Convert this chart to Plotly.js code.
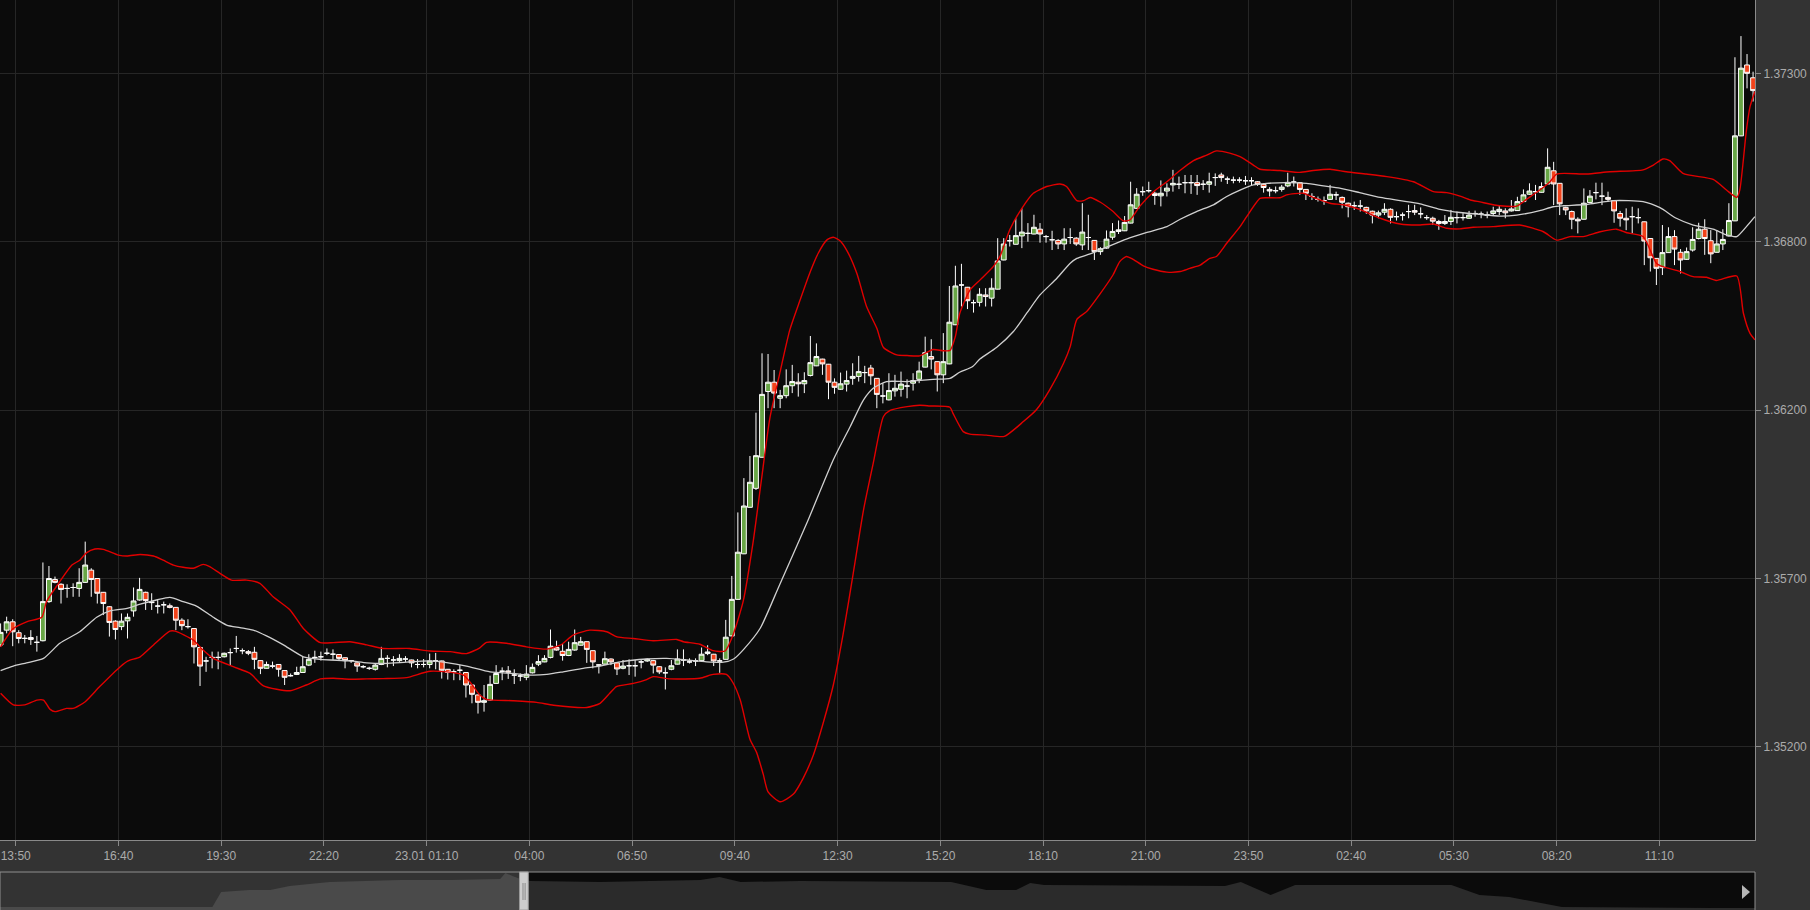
<!DOCTYPE html>
<html>
<head>
<meta charset="utf-8">
<script src="https://cdn.plot.ly/plotly-3.0.1.min.js"></script>
<style>
html,body{margin:0;padding:0;background:#333333;overflow:hidden}
#chart{width:1810px;height:910px}
</style>
</head>
<body>
<div id="chart"></div>
<script>
// ---- candles: 10-minute bars starting 22.01 13:25 ----
const startTime = '2015-01-22T13:25:00Z';
const candleMinutes = 10;

const open = [
1.35518,1.35564,1.35590,1.35556,1.35539,1.35541,1.35526,1.35531,1.35653,1.35722,
1.35707,1.35694,1.35697,1.35694,1.35713,1.35751,1.35725,1.35682,1.35637,1.35592,
1.35575,1.35593,1.35624,1.35658,1.35682,1.35652,1.35639,1.35643,1.35640,1.35635,
1.35595,1.35575,1.35569,1.35510,1.35468,1.35479,1.35479,1.35481,1.35494,1.35507,
1.35500,1.35497,1.35495,1.35469,1.35445,1.35452,1.35457,1.35438,1.35422,1.35426,
1.35432,1.35455,1.35479,1.35481,1.35492,1.35489,1.35488,1.35478,1.35469,1.35462,
1.35450,1.35445,1.35442,1.35457,1.35476,1.35471,1.35469,1.35474,1.35471,1.35457,
1.35457,1.35457,1.35468,1.35468,1.35442,1.35434,1.35439,1.35432,1.35393,1.35362,
1.35339,1.35346,1.35398,1.35436,1.35437,1.35424,1.35421,1.35417,1.35431,1.35458,
1.35465,1.35479,1.35510,1.35498,1.35485,1.35502,1.35517,1.35528,1.35500,1.35456,
1.35458,1.35474,1.35462,1.35445,1.35453,1.35453,1.35465,1.35468,1.35469,1.35450,
1.35431,1.35442,1.35458,1.35471,1.35465,1.35468,1.35469,1.35491,1.35489,1.35468,
1.35473,1.35546,1.35660,1.35802,1.35947,1.36006,1.36103,1.36308,1.36337,1.36287,
1.36295,1.36326,1.36337,1.36332,1.36358,1.36388,1.36409,1.36393,1.36337,1.36315,
1.36331,1.36349,1.36355,1.36367,1.36381,1.36349,1.36294,1.36282,1.36310,1.36315,
1.36325,1.36334,1.36346,1.36384,1.36417,1.36401,1.36360,1.36394,1.36516,1.36640,
1.36633,1.36585,1.36586,1.36609,1.36599,1.36627,1.36718,1.36778,1.36767,1.36793,
1.36801,1.36799,1.36814,1.36791,1.36781,1.36779,1.36768,1.36788,1.36786,1.36765,
1.36788,1.36779,1.36744,1.36755,1.36789,1.36807,1.36809,1.36833,1.36879,1.36931,
1.36934,1.36926,1.36918,1.36933,1.36952,1.36954,1.36959,1.36959,1.36959,1.36954,
1.36954,1.36975,1.36983,1.36970,1.36967,1.36967,1.36965,1.36965,1.36962,1.36954,
1.36938,1.36934,1.36938,1.36949,1.36961,1.36959,1.36938,1.36916,1.36907,1.36903,
1.36907,1.36921,1.36913,1.36895,1.36887,1.36886,1.36882,1.36870,1.36858,1.36867,
1.36876,1.36853,1.36858,1.36869,1.36872,1.36862,1.36850,1.36848,1.36838,1.36832,
1.36838,1.36850,1.36850,1.36848,1.36863,1.36861,1.36858,1.36863,1.36869,1.36871,
1.36871,1.36872,1.36900,1.36923,1.36931,1.36929,1.36955,1.36996,1.36957,1.36882,
1.36869,1.36845,1.36845,1.36897,1.36928,1.36917,1.36913,1.36903,1.36863,1.36848,
1.36853,1.36850,1.36837,1.36785,1.36723,1.36694,1.36741,1.36791,1.36742,1.36720,
1.36749,1.36785,1.36814,1.36778,1.36742,1.36768,1.36793,1.36840,1.37105,1.37326,
1.37286];

const high = [
1.35585,1.35606,1.35598,1.35564,1.35549,1.35564,1.35546,1.35775,1.35764,1.35731,
1.35710,1.35707,1.35710,1.35757,1.35840,1.35757,1.35726,1.35683,1.35639,1.35595,
1.35616,1.35616,1.35697,1.35727,1.35684,1.35679,1.35658,1.35653,1.35647,1.35636,
1.35601,1.35598,1.35570,1.35512,1.35481,1.35497,1.35497,1.35494,1.35507,1.35546,
1.35507,1.35502,1.35512,1.35470,1.35466,1.35466,1.35458,1.35439,1.35429,1.35450,
1.35481,1.35489,1.35500,1.35497,1.35507,1.35504,1.35489,1.35479,1.35471,1.35463,
1.35455,1.35450,1.35460,1.35512,1.35486,1.35483,1.35489,1.35483,1.35472,1.35474,
1.35474,1.35491,1.35493,1.35469,1.35443,1.35442,1.35455,1.35433,1.35394,1.35363,
1.35393,1.35422,1.35455,1.35448,1.35452,1.35442,1.35429,1.35455,1.35460,1.35486,
1.35486,1.35566,1.35531,1.35521,1.35528,1.35566,1.35543,1.35529,1.35501,1.35457,
1.35497,1.35476,1.35463,1.35471,1.35473,1.35471,1.35471,1.35476,1.35471,1.35452,
1.35448,1.35471,1.35504,1.35504,1.35476,1.35476,1.35510,1.35517,1.35490,1.35476,
1.35596,1.35733,1.35931,1.36038,1.36107,1.36242,1.36427,1.36425,1.36375,1.36313,
1.36377,1.36391,1.36365,1.36368,1.36481,1.36458,1.36410,1.36394,1.36349,1.36367,
1.36373,1.36396,1.36419,1.36388,1.36391,1.36350,1.36334,1.36365,1.36360,1.36370,
1.36346,1.36365,1.36401,1.36479,1.36471,1.36402,1.36490,1.36637,1.36700,1.36706,
1.36634,1.36594,1.36630,1.36630,1.36661,1.36786,1.36786,1.36796,1.36848,1.36879,
1.36833,1.36859,1.36833,1.36796,1.36809,1.36783,1.36817,1.36817,1.36789,1.36895,
1.36859,1.36780,1.36758,1.36810,1.36833,1.36841,1.36855,1.36962,1.36942,1.36947,
1.36962,1.36931,1.36966,1.36957,1.36999,1.36978,1.36983,1.36983,1.36983,1.36967,
1.36990,1.36988,1.36990,1.36978,1.36978,1.36976,1.36980,1.36976,1.36964,1.36957,
1.36945,1.36947,1.36952,1.36990,1.36978,1.36961,1.36939,1.36926,1.36916,1.36916,
1.36952,1.36931,1.36916,1.36897,1.36900,1.36905,1.36884,1.36872,1.36872,1.36895,
1.36879,1.36869,1.36866,1.36890,1.36890,1.36882,1.36858,1.36853,1.36843,1.36858,
1.36874,1.36869,1.36864,1.36871,1.36872,1.36869,1.36869,1.36884,1.36886,1.36879,
1.36905,1.36915,1.36938,1.36957,1.36952,1.36960,1.37066,1.37024,1.36958,1.36884,
1.36872,1.36851,1.36941,1.36936,1.36959,1.36959,1.36931,1.36904,1.36871,1.36879,
1.36884,1.36879,1.36838,1.36786,1.36724,1.36827,1.36820,1.36811,1.36752,1.36757,
1.36820,1.36834,1.36845,1.36811,1.36811,1.36814,1.36895,1.37350,1.37416,1.37360,
1.37305];

const low = [
1.35512,1.35554,1.35514,1.35523,1.35523,1.35518,1.35497,1.35529,1.35649,1.35710,
1.35647,1.35665,1.35668,1.35668,1.35711,1.35668,1.35647,1.35611,1.35544,1.35535,
1.35564,1.35538,1.35606,1.35656,1.35627,1.35627,1.35616,1.35616,1.35632,1.35564,
1.35564,1.35569,1.35460,1.35390,1.35434,1.35445,1.35442,1.35479,1.35455,1.35494,
1.35489,1.35486,1.35442,1.35427,1.35444,1.35445,1.35419,1.35393,1.35419,1.35424,
1.35431,1.35452,1.35462,1.35469,1.35486,1.35471,1.35471,1.35445,1.35462,1.35434,
1.35445,1.35440,1.35438,1.35455,1.35448,1.35452,1.35465,1.35465,1.35448,1.35445,
1.35448,1.35445,1.35442,1.35413,1.35410,1.35408,1.35408,1.35354,1.35336,1.35304,
1.35310,1.35344,1.35397,1.35408,1.35412,1.35396,1.35405,1.35408,1.35429,1.35452,
1.35464,1.35476,1.35500,1.35469,1.35483,1.35500,1.35516,1.35462,1.35445,1.35429,
1.35457,1.35455,1.35424,1.35442,1.35424,1.35419,1.35445,1.35465,1.35429,1.35427,
1.35379,1.35439,1.35457,1.35452,1.35460,1.35452,1.35468,1.35486,1.35452,1.35431,
1.35472,1.35545,1.35659,1.35801,1.35946,1.36001,1.36102,1.36256,1.36256,1.36256,
1.36287,1.36303,1.36292,1.36303,1.36355,1.36387,1.36360,1.36284,1.36301,1.36313,
1.36308,1.36329,1.36339,1.36334,1.36329,1.36256,1.36271,1.36280,1.36292,1.36292,
1.36287,1.36311,1.36334,1.36383,1.36377,1.36308,1.36334,1.36393,1.36515,1.36573,
1.36565,1.36554,1.36573,1.36573,1.36573,1.36626,1.36717,1.36760,1.36766,1.36755,
1.36775,1.36798,1.36772,1.36772,1.36749,1.36752,1.36749,1.36768,1.36762,1.36749,
1.36749,1.36718,1.36734,1.36753,1.36781,1.36799,1.36808,1.36832,1.36878,1.36918,
1.36928,1.36890,1.36885,1.36916,1.36931,1.36939,1.36926,1.36924,1.36921,1.36936,
1.36928,1.36949,1.36962,1.36955,1.36957,1.36959,1.36952,1.36949,1.36949,1.36928,
1.36916,1.36926,1.36931,1.36945,1.36947,1.36921,1.36905,1.36905,1.36900,1.36890,
1.36905,1.36905,1.36879,1.36851,1.36874,1.36869,1.36862,1.36832,1.36848,1.36858,
1.36832,1.36841,1.36841,1.36848,1.36858,1.36848,1.36843,1.36827,1.36812,1.36827,
1.36827,1.36832,1.36841,1.36847,1.36853,1.36848,1.36848,1.36858,1.36858,1.36848,
1.36869,1.36871,1.36899,1.36921,1.36905,1.36928,1.36954,1.36889,1.36858,1.36858,
1.36814,1.36801,1.36844,1.36895,1.36907,1.36889,1.36900,1.36834,1.36822,1.36811,
1.36801,1.36832,1.36702,1.36682,1.36640,1.36671,1.36740,1.36702,1.36676,1.36718,
1.36744,1.36782,1.36734,1.36708,1.36741,1.36749,1.36791,1.36839,1.37104,1.37253,
1.37212];

const close = [
1.35557,1.35590,1.35559,1.35538,1.35538,1.35535,1.35526,1.35653,1.35725,1.35713,
1.35691,1.35694,1.35697,1.35713,1.35767,1.35722,1.35679,1.35647,1.35588,1.35566,
1.35592,1.35604,1.35655,1.35691,1.35656,1.35650,1.35639,1.35643,1.35635,1.35595,
1.35578,1.35575,1.35512,1.35452,1.35468,1.35479,1.35479,1.35492,1.35494,1.35507,
1.35500,1.35492,1.35473,1.35445,1.35457,1.35452,1.35442,1.35417,1.35422,1.35432,
1.35450,1.35473,1.35479,1.35481,1.35492,1.35489,1.35476,1.35469,1.35469,1.35452,
1.35450,1.35445,1.35455,1.35476,1.35476,1.35471,1.35476,1.35474,1.35462,1.35457,
1.35457,1.35468,1.35468,1.35439,1.35432,1.35434,1.35439,1.35393,1.35364,1.35339,
1.35344,1.35395,1.35429,1.35436,1.35433,1.35424,1.35421,1.35427,1.35448,1.35466,
1.35476,1.35514,1.35502,1.35485,1.35504,1.35525,1.35528,1.35504,1.35465,1.35455,
1.35475,1.35465,1.35443,1.35452,1.35453,1.35453,1.35465,1.35473,1.35455,1.35434,
1.35431,1.35453,1.35474,1.35471,1.35465,1.35468,1.35489,1.35496,1.35468,1.35468,
1.35542,1.35660,1.35807,1.35951,1.36025,1.36108,1.36299,1.36337,1.36303,1.36295,
1.36326,1.36339,1.36332,1.36342,1.36398,1.36417,1.36394,1.36337,1.36321,1.36332,
1.36342,1.36355,1.36370,1.36367,1.36357,1.36299,1.36294,1.36311,1.36318,1.36331,
1.36325,1.36342,1.36372,1.36429,1.36409,1.36360,1.36401,1.36524,1.36637,1.36640,
1.36591,1.36585,1.36611,1.36604,1.36630,1.36715,1.36768,1.36778,1.36794,1.36805,
1.36801,1.36820,1.36799,1.36791,1.36781,1.36768,1.36783,1.36788,1.36768,1.36805,
1.36788,1.36744,1.36753,1.36783,1.36807,1.36812,1.36835,1.36890,1.36923,1.36931,
1.36934,1.36919,1.36926,1.36942,1.36957,1.36954,1.36959,1.36959,1.36950,1.36954,
1.36962,1.36975,1.36975,1.36970,1.36967,1.36967,1.36965,1.36965,1.36954,1.36944,
1.36933,1.36934,1.36945,1.36960,1.36961,1.36938,1.36926,1.36916,1.36907,1.36903,
1.36923,1.36921,1.36898,1.36884,1.36887,1.36886,1.36871,1.36858,1.36865,1.36876,
1.36851,1.36853,1.36858,1.36869,1.36867,1.36862,1.36850,1.36839,1.36832,1.36838,
1.36851,1.36850,1.36850,1.36858,1.36863,1.36861,1.36858,1.36871,1.36876,1.36865,
1.36877,1.36900,1.36921,1.36933,1.36931,1.36947,1.37007,1.36955,1.36893,1.36874,
1.36845,1.36840,1.36895,1.36917,1.36928,1.36917,1.36907,1.36871,1.36848,1.36843,
1.36853,1.36850,1.36777,1.36725,1.36692,1.36741,1.36791,1.36752,1.36718,1.36744,
1.36782,1.36814,1.36785,1.36737,1.36768,1.36782,1.36841,1.37105,1.37316,1.37300,
1.37246];

// ---- bands (position in candle steps, value) ----
const upperAt = [0,2.1,4.3,6.8,7.6,9.6,11.8,13.1,14.2,15.6,17,19.5,20.9,23.1,25.3,26.9,28.6,30.2,31.9,33.5,34.6,36.3,38.2,40.7,42.9,45.1,47.9,50.1,52.9,55.1,57.8,60.6,63.3,67.7,71,74.4,77.1,79.3,80.4,83.7,87,90.4,92.6,94.8,97.5,100.3,102,104.7,108,111.9,113,115.7,117.9,119.9,121.2,122.9,124.5,125.9,127.3,129,130.6,132.3,134,135.3,136.7,137.8,138.9,140,141.7,143.3,145,146.1,148.3,150,152.1,154.3,156,157.1,158,158.7,160.4,162.1,164.3,165.4,167,169,170.9,173.1,175.3,176.4,178.1,179.2,180.3,182,184.1,185.8,186.9,188.5,190.8,193,195.1,197.4,199.6,201.2,203.4,205.1,207.3,208.4,211.7,215,217.2,220,222.7,226,229.4,233.8,237.1,239.3,241.5,243.2,244.8,248.1,250.9,252.5,254.7,256.4,257.5,262.4,266.3,271.8,273.5,275.1,276.2,278.4,283.4,285.6,287.3,287.8,288.9,289.5,290.3];
const upperBand = [1.35512,1.35569,1.35590,1.35604,1.35653,1.35710,1.35767,1.35782,1.35805,1.35817,1.35816,1.35798,1.35795,1.35800,1.35795,1.35782,1.35767,1.35760,1.35757,1.35769,1.35762,1.35741,1.35720,1.35720,1.35710,1.35668,1.35627,1.35569,1.35525,1.35525,1.35528,1.35518,1.35507,1.35507,1.35499,1.35497,1.35491,1.35509,1.35526,1.35523,1.35512,1.35505,1.35517,1.35549,1.35564,1.35559,1.35543,1.35538,1.35531,1.35535,1.35528,1.35520,1.35500,1.35499,1.35549,1.35655,1.35835,1.36032,1.36225,1.36370,1.36500,1.36593,1.36682,1.36739,1.36780,1.36789,1.36778,1.36749,1.36676,1.36573,1.36505,1.36445,1.36422,1.36420,1.36419,1.36439,1.36435,1.36436,1.36480,1.36550,1.36624,1.36656,1.36698,1.36730,1.36812,1.36879,1.36926,1.36947,1.36955,1.36947,1.36903,1.36903,1.36913,1.36898,1.36869,1.36840,1.36843,1.36885,1.36931,1.36962,1.36996,1.37028,1.37045,1.37058,1.37051,1.37040,1.37014,1.37001,1.36997,1.36991,1.36997,1.37001,1.36993,1.36986,1.36978,1.36962,1.36931,1.36928,1.36917,1.36905,1.36899,1.36887,1.36886,1.36907,1.36936,1.36962,1.36986,1.36986,1.36993,1.36999,1.37014,1.37033,1.37028,1.36988,1.36969,1.36936,1.36913,1.36936,1.37123,1.37196,1.37243];

const middleAt = [0,2.1,4.3,7.1,9.8,13.1,15.9,18.1,20.9,23.1,25.8,28,30.2,32.4,35.2,37.4,39.6,41.8,44,46.8,50.1,52.9,57.8,60.6,63.3,66.1,71.1,73.8,77.1,81,84.8,87.6,90.4,93.1,96.4,99.2,102.5,106.9,110.2,113.5,116.8,119.6,121.3,123,125.7,128.9,133.4,137.8,140.6,142.8,144.4,146.6,150,154.3,157.1,158.7,160.8,162.1,164.8,167.6,169.8,172,174.8,177,178.1,180.3,183,186.3,189.7,193,195.2,197.9,200.7,202.9,205.1,207.3,209.5,212.8,216.1,218.9,221.6,224.9,228.3,231.6,234.9,238.2,241.5,244.8,248.1,250.9,254.7,256.9,258.6,262.4,266.9,271.8,274.6,277.3,280.1,283.4,285.6,287.3,288.9,290.3];
const middleBand = [1.35438,1.35452,1.35462,1.35476,1.35523,1.35559,1.35604,1.35624,1.35632,1.35645,1.35658,1.35666,1.35653,1.35639,1.35604,1.35580,1.35572,1.35564,1.35546,1.35518,1.35481,1.35473,1.35468,1.35462,1.35460,1.35463,1.35468,1.35463,1.35452,1.35434,1.35429,1.35424,1.35426,1.35434,1.35445,1.35452,1.35465,1.35474,1.35476,1.35471,1.35465,1.35464,1.35474,1.35505,1.35570,1.35705,1.35897,1.36095,1.36199,1.36282,1.36318,1.36339,1.36339,1.36346,1.36349,1.36368,1.36385,1.36410,1.36445,1.36495,1.36552,1.36609,1.36661,1.36708,1.36723,1.36737,1.36758,1.36783,1.36804,1.36822,1.36845,1.36869,1.36890,1.36916,1.36936,1.36952,1.36957,1.36959,1.36957,1.36949,1.36942,1.36928,1.36913,1.36903,1.36893,1.36876,1.36866,1.36860,1.36855,1.36858,1.36872,1.36884,1.36887,1.36891,1.36903,1.36900,1.36881,1.36848,1.36827,1.36814,1.36796,1.36791,1.36822,1.36853];

const lowerAt = [0,2.1,4,6,7.1,8.2,9,10.9,12,14,16.4,19.8,21.1,23.1,25.3,28,28.9,31.9,33.5,35.2,38.5,41.3,43.5,47.9,50.6,52.9,55.1,57.8,60.6,63.3,67.2,71.1,76.6,79.3,80.4,84.8,88.7,91.5,97,99.2,100.8,101.9,104.7,106.9,108,110.8,115.7,117.9,120.1,121.2,122.4,124,125.1,126.2,127,129,131.2,132.8,134.5,136.1,137.8,139.4,141.1,142.8,144.4,146.1,147.2,150,152.1,153.8,157.1,157.6,159.3,160.4,163.1,166.1,169.3,171.4,173.6,175.9,177,178.1,179.7,182,184.1,185.2,186.3,187.4,189.1,190.7,193,195.2,196.8,198.5,200.1,201.2,202.9,205.1,206.2,208.4,209.5,211.7,212.8,215.6,217.2,220,222.2,224.9,228.3,231.6,234.9,237.1,239.3,241.5,243.7,247,251.4,255.3,257.5,259.7,261.9,264.7,267.4,269.1,271.8,274,275.1,277.9,280.1,282.3,283.9,287.3,288.4,289.5,290.3];
const lowerBand = [1.35367,1.35331,1.35331,1.35346,1.35346,1.35317,1.35310,1.35320,1.35320,1.35341,1.35388,1.35450,1.35468,1.35481,1.35518,1.35561,1.35561,1.35533,1.35502,1.35476,1.35450,1.35429,1.35390,1.35375,1.35393,1.35412,1.35414,1.35411,1.35412,1.35413,1.35416,1.35436,1.35424,1.35362,1.35348,1.35344,1.35339,1.35330,1.35323,1.35336,1.35367,1.35388,1.35398,1.35410,1.35419,1.35412,1.35414,1.35426,1.35426,1.35400,1.35346,1.35224,1.35183,1.35115,1.35060,1.35029,1.35053,1.35102,1.35175,1.35273,1.35393,1.35549,1.35742,1.35939,1.36084,1.36230,1.36249,1.36261,1.36265,1.36263,1.36259,1.36240,1.36183,1.36175,1.36172,1.36168,1.36215,1.36251,1.36313,1.36396,1.36448,1.36533,1.36557,1.36614,1.36672,1.36713,1.36729,1.36720,1.36700,1.36689,1.36680,1.36682,1.36692,1.36702,1.36723,1.36729,1.36770,1.36822,1.36853,1.36910,1.36912,1.36912,1.36921,1.36926,1.36913,1.36895,1.36890,1.36876,1.36848,1.36830,1.36827,1.36830,1.36817,1.36815,1.36820,1.36822,1.36827,1.36806,1.36780,1.36791,1.36791,1.36806,1.36814,1.36803,1.36791,1.36708,1.36697,1.36682,1.36666,1.36664,1.36654,1.36668,1.36552,1.36489,1.36469];

// ---- axis ticks ----
const timeTicks = ['2015-01-22 13:50','2015-01-22 16:40','2015-01-22 19:30','2015-01-22 22:20','2015-01-23 01:10','2015-01-23 04:00','2015-01-23 06:50','2015-01-23 09:40','2015-01-23 12:30','2015-01-23 15:20','2015-01-23 18:10','2015-01-23 21:00','2015-01-23 23:50','2015-01-24 02:40','2015-01-24 05:30','2015-01-24 08:20','2015-01-24 11:10'];
const timeTickLabels = ['13:50','16:40','19:30','22:20','23.01 01:10','04:00','06:50','09:40','12:30','15:20','18:10','21:00','23:50','02:40','05:30','08:20','11:10'];
const priceTicks = [1.352, 1.35725, 1.3625, 1.36775, 1.373];
const priceTickLabels = ['1.35200','1.35700','1.36200','1.36800','1.37300'];

// ---- navigator (percent of navigator width, level) ----
const navPos = [0,5.7,11.4,12.1,12.6,14.2,15.4,16.5,18.2,18.8,22.8,25.6,28.5,28.8,29.2,29.8,30.2,34.2,39.9,41.0,42.2,45.6,51.3,54.2,56.2,57.9,58.7,59.5,69.8,70.7,72.4,73.8,82.7,84.3,86.0,87.6,89.0,97.5,100];
const navLevel = [3,3,3,3,18,20,20,24,27,28,30,30,31,37,34,30,29,28,30,33,28,29,28,28,20,20,27,25,24,28,15,25,25,15,13,8,3,2,2];
const navHandle = 29.8;

// ---- build ----
const t0 = Date.parse(startTime);
function timeAt(k){
  return new Date(t0 + k*candleMinutes*60000).toISOString().slice(0,19).replace('T',' ');
}
const times = open.map((_, i) => timeAt(i));

const W = 1810, H = 910;
const plotRight = 1755/W;
const navTop = 38/H;
const mainBottom = 70/H;
const font = {family: '"Liberation Sans", Arial, sans-serif', size: 12, color: '#ababab'};

const navL = [], navLY = [], navR = [], navRY = [];
navPos.forEach((p, i) => {
  if (p <= navHandle) { navL.push(p); navLY.push(navLevel[i]); }
  if (p >= navHandle) { navR.push(p); navRY.push(navLevel[i]); }
});

const traces = [
  {type:'scatter', mode:'lines', x: lowerAt.map(timeAt), y: lowerBand,
   line:{color:'#e10000', width:1.4, shape:'spline', smoothing:0.6}, hoverinfo:'skip', showlegend:false},
  {type:'scatter', mode:'lines', x: upperAt.map(timeAt), y: upperBand,
   line:{color:'#e10000', width:1.4, shape:'spline', smoothing:0.6}, hoverinfo:'skip', showlegend:false},
  {type:'scatter', mode:'lines', x: middleAt.map(timeAt), y: middleBand,
   line:{color:'#d0d0d0', width:1.3, shape:'spline', smoothing:0.6}, hoverinfo:'skip', showlegend:false},
  {type:'candlestick', x: times, open: open, high: high, low: low, close: close,
   increasing:{line:{color:'#ffffff', width:1}, fillcolor:'#68a646'},
   decreasing:{line:{color:'#ffffff', width:1}, fillcolor:'#f2431b'},
   whiskerwidth:0, hoverinfo:'skip', showlegend:false},
  {type:'scatter', mode:'lines', x: navL, y: navLY, xaxis:'x2', yaxis:'y2',
   fill:'tozeroy', fillcolor:'#4a4a4a', line:{width:0, color:'#4a4a4a'}, hoverinfo:'skip', showlegend:false},
  {type:'scatter', mode:'lines', x: navR, y: navRY, xaxis:'x2', yaxis:'y2',
   fill:'tozeroy', fillcolor:'#2b2b2b', line:{width:0, color:'#2b2b2b'}, hoverinfo:'skip', showlegend:false}
];

const layout = {
  width: W, height: H,
  margin: {l:0, r:0, t:0, b:0, pad:0},
  paper_bgcolor: '#333333',
  plot_bgcolor: '#0b0b0b',
  font: font,
  showlegend: false,
  boxgap: 0.2,
  boxgroupgap: 0,
  xaxis: {
    domain: [0, plotRight], anchor: 'y', type: 'date',
    range: ['2015-01-22 13:24:00', '2015-01-24 13:48:12'],
    tickmode: 'array', tickvals: timeTicks, ticktext: timeTickLabels,
    ticks: 'outside', ticklen: 5, tickwidth: 1, tickcolor: '#8a8a8a',
    showgrid: true, gridcolor: '#262626', gridwidth: 1,
    showline: true, linecolor: '#8a8a8a', linewidth: 1,
    zeroline: false, tickfont: font, ticklabeloverflow: 'allow',
    rangeslider: {visible: false}, fixedrange: true
  },
  yaxis: {
    domain: [mainBottom, 1], anchor: 'x', side: 'right',
    range: [1.349098, 1.375285],
    tickmode: 'array', tickvals: priceTicks, ticktext: priceTickLabels,
    ticks: 'outside', ticklen: 5, tickwidth: 1, tickcolor: '#8a8a8a',
    showgrid: true, gridcolor: '#262626', gridwidth: 1,
    showline: true, linecolor: '#8a8a8a', linewidth: 1,
    zeroline: false, tickfont: font, fixedrange: true
  },
  xaxis2: {domain: [0, plotRight], anchor: 'y2', range: [0, 100], visible: false, fixedrange: true},
  yaxis2: {domain: [0, navTop], anchor: 'x2', range: [0, 38], visible: false, fixedrange: true},
  shapes: [
    {type:'rect', layer:'below', xref:'x2', yref:'paper', x0:0, x1:navHandle, y0:0, y1:navTop,
     fillcolor:'#333333', line:{width:0}},
    {type:'rect', layer:'above', xref:'paper', yref:'paper', x0:0, x1:plotRight, y0:-0.01, y1:navTop,
     fillcolor:'rgba(0,0,0,0)', line:{color:'#8f8f8f', width:1}},
    {type:'rect', layer:'above', xref:'x2', yref:'paper', x0:29.6, x1:30.1, y0:0, y1:navTop,
     fillcolor:'#cdcdcd', line:{color:'#9a9a9a', width:1}},
    {type:'line', layer:'above', xref:'x2', yref:'paper', x0:29.8, x1:29.8, y0:10/H, y1:27/H,
     line:{color:'#8a8a8a', width:1}},
    {type:'line', layer:'above', xref:'x2', yref:'paper', x0:29.92, x1:29.92, y0:10/H, y1:27/H,
     line:{color:'#8a8a8a', width:1}},
    {type:'path', layer:'above', xref:'paper', yref:'paper',
     path: 'M ' + (1742/W) + ',' + (25/H) + ' L ' + (1750/W) + ',' + (18/H) + ' L ' + (1742/W) + ',' + (11/H) + ' Z',
     fillcolor:'#b5b5b5', line:{width:0}}
  ]
};

Plotly.newPlot('chart', traces, layout, {staticPlot: true, displayModeBar: false});
</script>
</body>
</html>
